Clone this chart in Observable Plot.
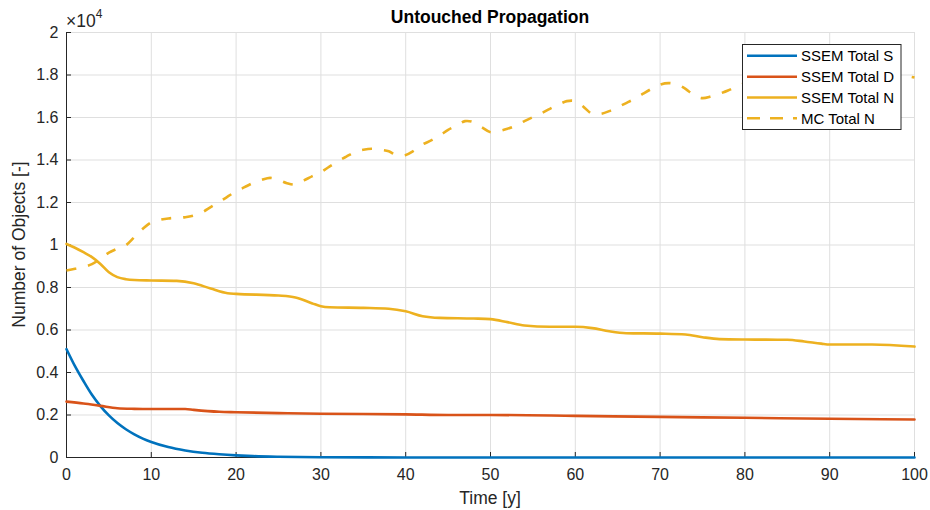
<!DOCTYPE html>
<html>
<head>
<meta charset="utf-8">
<script src="https://cdn.jsdelivr.net/npm/d3@7"></script>
<script src="https://cdn.jsdelivr.net/npm/@observablehq/plot@0.6"></script>
<style>
  html, body { margin: 0; padding: 0; background: #ffffff; }
  #chart { width: 930px; height: 510px; }
</style>
</head>
<body>
<div id="chart"></div>
<script>
// ---------- data (values in number of objects) ----------
const seriesNames = ["SSEM Total S", "SSEM Total D", "SSEM Total N", "MC Total N"];
const seriesColors = ["#0072BD", "#D95319", "#EDB120", "#EDB120"];

const yearsS = [0,1,2,3,4,5,6,7,8,9,10,12,14,16,18,20,22,25,30,40,50,60,70,80,90,100];
const ssemS  = [5100,4300,3600,2950,2420,1980,1620,1330,1090,890,730,490,330,220,150,100,65,35,12,2,0,0,0,0,0,0];

const yearsD = [0,2,4,6,8,10,14,15,18,20,25,30,40,45,50,60,70,80,90,100];
const ssemD  = [2630,2540,2430,2320,2290,2280,2280,2240,2150,2130,2090,2060,2030,2000,2000,1960,1910,1870,1820,1790];

const yearsN = [0,1,2,3,4,5,6,7,8,10,13,15,17,19,20,25,27,29,30,31,35,38,40,42,44,48,50,52,54,57,60,62,64,66,70,73,75,77,80,85,87,89,90,95,100];
const ssemN  = [10050,9870,9660,9430,9110,8720,8490,8390,8350,8330,8310,8200,7950,7730,7700,7620,7530,7250,7120,7070,7040,7000,6880,6650,6570,6540,6510,6370,6210,6150,6150,6090,5940,5850,5830,5790,5660,5570,5550,5540,5460,5360,5320,5320,5220];

const yearsMC = d3.range(0, 101);
const mcN = [8800,8880,8960,9100,9350,9640,9830,9990,10370,10760,
             11070,11180,11250,11280,11310,11390,11540,11780,12020,12280,
             12520,12720,12920,13060,13160,13060,12910,12850,13040,13240,
             13430,13690,13940,14160,14370,14480,14530,14480,14410,14210,
             14240,14450,14730,14920,15150,15420,15620,15830,15780,15540,
             15310,15360,15470,15620,15830,16020,16200,16410,16600,16770,
             16770,16490,16170,16170,16300,16490,16680,16880,17120,17350,
             17550,17620,17550,17350,17040,16910,16990,17120,17270,17460,
             17620,17750,17850,17900,17800,17600,17550,17650,17800,17950,
             18100,18200,18300,18350,18300,18150,18000,17950,17980,17950,
             17880];

const xTicks = [0,10,20,30,40,50,60,70,80,90,100];
const yTicks = [0,2000,4000,6000,8000,10000,12000,14000,16000,18000,20000];

// ---------- build tables ----------
const toRows = (xs, ys, name) => xs.map((x, i) => ({year: x, value: ys[i], series: name}));
const rowsS = toRows(yearsS, ssemS, seriesNames[0]);
const rowsD = toRows(yearsD, ssemD, seriesNames[1]);
const rowsN = toRows(yearsN, ssemN, seriesNames[2]);
const rowsMC = toRows(yearsMC, mcN, seriesNames[3]);

const W = 930, H = 510;
const mL = 66, mR = 16, mT = 32, mB = 53;
const frameW = W - mL - mR, frameH = H - mT - mB;
const axisColor = "#262626";
const gridColor = "#dfdfdf";
const fmtY = d => String(+(d / 10000).toFixed(1));
const lw = 2.6;

const svg = Plot.plot({
  width: W, height: H,
  marginLeft: mL, marginRight: mR, marginTop: mT, marginBottom: mB,
  style: {fontFamily: "'Liberation Sans', Arial, sans-serif", fontSize: "16px", color: axisColor, background: "#ffffff", overflow: "visible"},
  x: {domain: [0, 100], label: null},
  y: {domain: [0, 20000], label: null},
  marks: [
    Plot.gridX(xTicks, {stroke: gridColor, strokeOpacity: 1, strokeWidth: 1}),
    Plot.gridY(yTicks, {stroke: gridColor, strokeOpacity: 1, strokeWidth: 1}),
    Plot.ruleX([0], {stroke: axisColor, strokeWidth: 1}),
    Plot.ruleY([0], {stroke: axisColor, strokeWidth: 1}),
    Plot.tickX(xTicks, {x: d => d, insetTop: frameH - 5, stroke: axisColor, strokeWidth: 1}),
    Plot.tickY(yTicks, {y: d => d, insetRight: frameW - 5, stroke: axisColor, strokeWidth: 1}),
    Plot.lineY(rowsS, {x: "year", y: "value", stroke: seriesColors[0], strokeWidth: lw, curve: "monotone-x"}),
    Plot.lineY(rowsD, {x: "year", y: "value", stroke: seriesColors[1], strokeWidth: lw, curve: "monotone-x"}),
    Plot.lineY(rowsN, {x: "year", y: "value", stroke: seriesColors[2], strokeWidth: lw, curve: "monotone-x"}),
    Plot.lineY(rowsMC, {x: "year", y: "value", stroke: seriesColors[3], strokeWidth: lw, strokeDasharray: "10,12", strokeLinecap: "butt", curve: "catmull-rom"}),
    Plot.axisX(xTicks, {tickSize: 0, tickPadding: 11, label: null, fill: axisColor, fontSize: 16}),
    Plot.axisY(yTicks, {tickSize: 0, tickPadding: 8, label: null, tickFormat: fmtY, fill: axisColor, fontSize: 16})
  ]
});

document.getElementById("chart").appendChild(svg);

const s = d3.select(svg);
const ff = "'Liberation Sans', Arial, sans-serif";

// title
s.append("text")
  .attr("x", mL + frameW / 2).attr("y", 23)
  .attr("text-anchor", "middle")
  .attr("font-family", ff).attr("font-size", 17.5).attr("font-weight", "bold")
  .attr("fill", "#000")
  .text("Untouched Propagation");

// exponent
const ex = s.append("text")
  .attr("x", mL).attr("y", 27)
  .attr("text-anchor", "start")
  .attr("font-family", ff).attr("font-size", 17.5)
  .attr("fill", axisColor);
ex.append("tspan").text("\u00d710");
ex.append("tspan").attr("dy", -9).attr("font-size", 12).text("4");

// axis labels
s.append("text")
  .attr("x", mL + frameW / 2).attr("y", 504)
  .attr("text-anchor", "middle")
  .attr("font-family", ff).attr("font-size", 17.5)
  .attr("fill", axisColor)
  .text("Time [y]");

s.append("text")
  .attr("transform", `translate(25, ${mT + frameH / 2}) rotate(-90)`)
  .attr("text-anchor", "middle")
  .attr("font-family", ff).attr("font-size", 17.5)
  .attr("fill", axisColor)
  .text("Number of Objects [-]");

// legend
const lg = s.append("g");
lg.append("rect")
  .attr("x", 742.5).attr("y", 44.5).attr("width", 158.5).attr("height", 85)
  .attr("fill", "#ffffff").attr("stroke", "#262626").attr("stroke-width", 1);
const rowY = [55.7, 76.7, 97.5, 118.3];
seriesNames.forEach((name, i) => {
  lg.append("line")
    .attr("x1", 747).attr("x2", 797).attr("y1", rowY[i]).attr("y2", rowY[i])
    .attr("stroke", seriesColors[i]).attr("stroke-width", lw)
    .attr("stroke-dasharray", i === 3 ? "13,10" : null);
  lg.append("text")
    .attr("x", 801).attr("y", rowY[i] + 5.3)
    .attr("text-anchor", "start")
    .attr("font-family", ff).attr("font-size", 15)
    .attr("fill", "#000")
    .text(name);
});
</script>
</body>
</html>
